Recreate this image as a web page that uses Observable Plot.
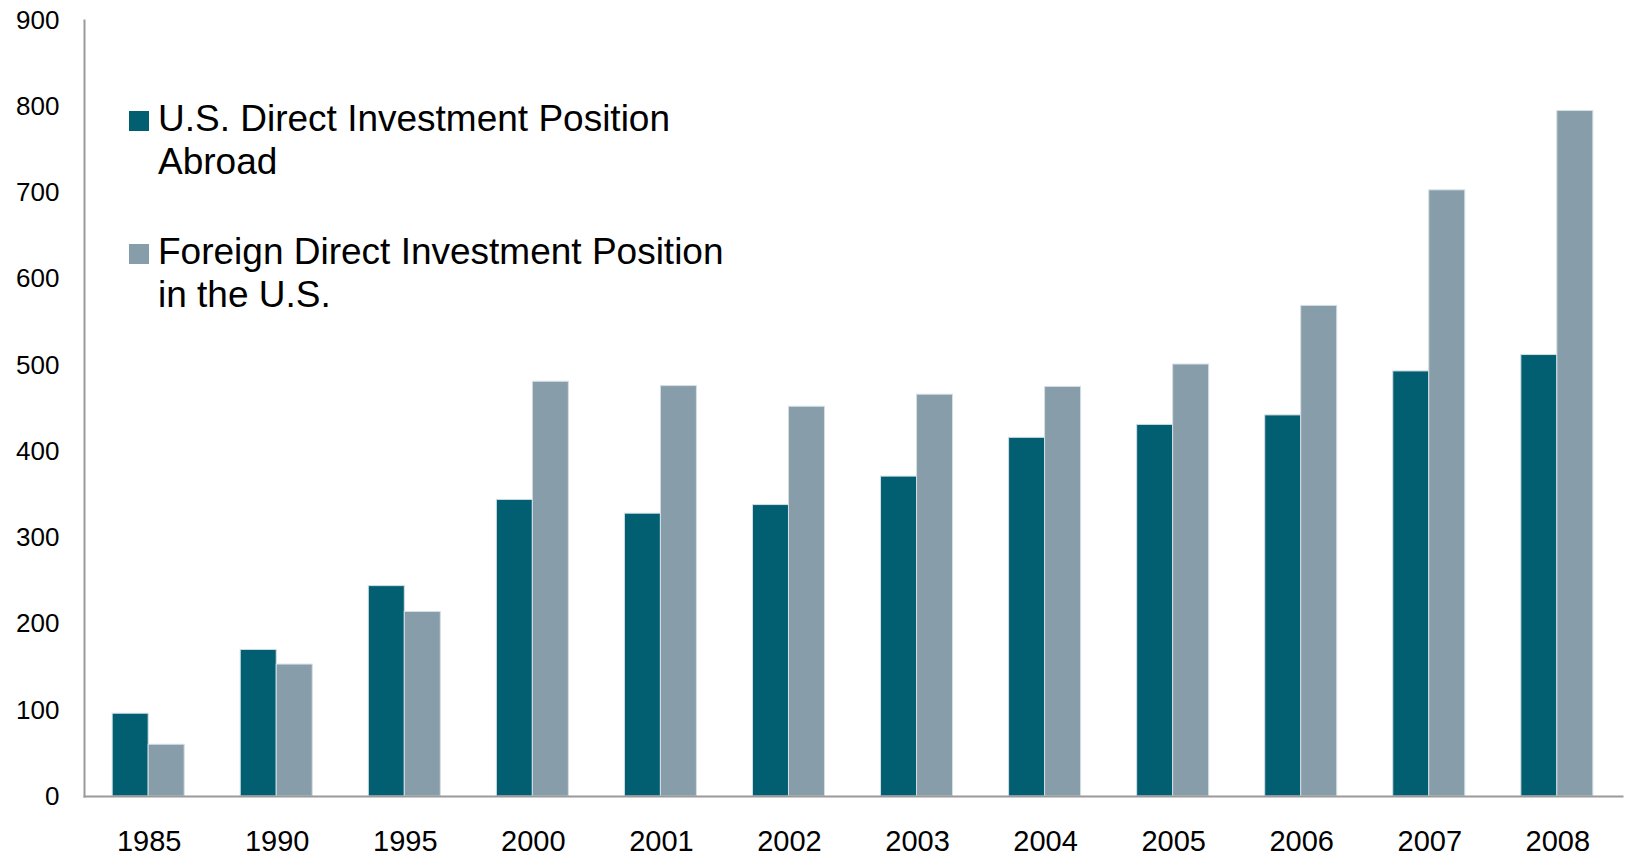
<!DOCTYPE html>
<html>
<head>
<meta charset="utf-8">
<script src="https://cdn.jsdelivr.net/npm/d3@7"></script>
<script src="https://cdn.jsdelivr.net/npm/@observablehq/plot@0.6"></script>
<style>
  html, body { margin: 0; padding: 0; background: #fff; }
  #wrap { position: relative; width: 1626px; height: 856px; font-family: "Liberation Sans", Arial, sans-serif; }
  #wrap > svg, #wrap > figure { position: absolute; left: 0; top: 0; margin: 0; }
  #legend { position: absolute; left: 129px; top: 97px; color: #000; }
  .item { display: flex; align-items: flex-start; }
  .item + .item { margin-top: 47px; }
  .sw { width: 20px; height: 20px; margin-top: 14px; margin-right: 9px; flex: none; }
  .lab { font-size: 37px; line-height: 43px; }
</style>
</head>
<body>
<div id="wrap"></div>
<script>
const years = ["1985","1990","1995","2000","2001","2002","2003","2004","2005","2006","2007","2008"];
const seriesNames = ["U.S. Direct Investment Position Abroad", "Foreign Direct Investment Position in the U.S."];
const legendLines = [["U.S. Direct Investment Position", "Abroad"], ["Foreign Direct Investment Position", "in the U.S."]];
const usAbroad    = [96, 170, 244, 344, 328, 338, 371, 416, 431, 442, 493, 512];
const foreignInUS = [60, 153, 214, 481, 476, 452, 466, 475, 501, 569, 703, 795];
const colors = ["#025F71", "#879DAA"];
const yTicks = [0, 100, 200, 300, 400, 500, 600, 700, 800, 900];

const data = [];
years.forEach((y, i) => {
  data.push({year: y, series: seriesNames[0], value: usAbroad[i]});
  data.push({year: y, series: seriesNames[1], value: foreignInUS[i]});
});

const font = '"Liberation Sans", Arial, sans-serif';
const common = {
  width: 1626,
  height: 856,
  marginLeft: 84,
  marginRight: 4,
  marginTop: 20,
  marginBottom: 60
};
const band = {domain: years, paddingInner: 0.43, paddingOuter: 0.22, round: false};

// Axes layer (non-faceted): tick labels
const axes = Plot.plot({
  ...common,
  style: {fontFamily: font, background: "transparent", color: "#000"},
  x: {type: "band", ...band, label: null},
  y: {domain: [0, 900], label: null},
  marks: [
    Plot.axisY({ticks: yTicks, tickSize: 0, tickPadding: 25, fontSize: 26, fill: "#000", label: null}),
    Plot.axisX({tickSize: 0, tickPadding: 34, fontSize: 29, fill: "#000", label: null})
  ]
});

// Bars layer (faceted by year)
const bars = Plot.plot({
  ...common,
  style: {fontFamily: font, background: "transparent"},
  fx: {...band, axis: null, label: null},
  x: {domain: seriesNames, padding: 0, axis: null},
  y: {domain: [0, 900], axis: null},
  color: {domain: seriesNames, range: colors},
  marks: [
    Plot.barY(data, {fx: "year", x: "series", y: "value", fill: "series", stroke: "#d3dfe4", strokeWidth: 1})
  ]
});

// Axis lines layer
const lines = Plot.plot({
  ...common,
  style: {background: "transparent"},
  x: {domain: [0, 1], axis: null},
  y: {domain: [0, 900], axis: null},
  marks: [
    Plot.frame({anchor: "left", stroke: "#9a9a9a", strokeWidth: 2}),
    Plot.frame({anchor: "bottom", stroke: "#9a9a9a", strokeWidth: 2})
  ]
});

const wrap = document.getElementById("wrap");
wrap.appendChild(axes);
wrap.appendChild(bars);
wrap.appendChild(lines);

const legend = document.createElement("div");
legend.id = "legend";
legendLines.forEach((ls, i) => {
  const item = document.createElement("div");
  item.className = "item";
  const sw = document.createElement("div");
  sw.className = "sw";
  sw.style.background = colors[i];
  const lab = document.createElement("div");
  lab.className = "lab";
  lab.innerHTML = ls.join("<br>");
  item.appendChild(sw);
  item.appendChild(lab);
  legend.appendChild(item);
});
wrap.appendChild(legend);
</script>
</body>
</html>
